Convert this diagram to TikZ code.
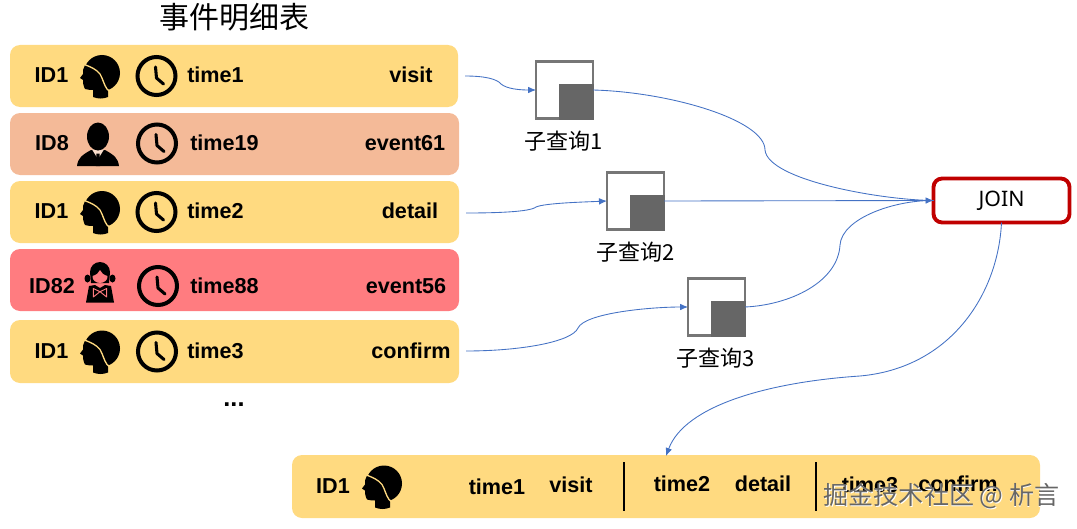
\documentclass[tikz,border=0pt]{standalone}
\usepackage{fontspec}
\setmainfont{Noto Sans}
\newfontfamily\cjk{Noto Sans CJK SC}
\newfontfamily\labfont{Liberation Sans}
\usetikzlibrary{arrows.meta}
\definecolor{yel}{HTML}{FFDA80}
\definecolor{sal}{HTML}{F4BA98}
\definecolor{redrow}{HTML}{FF7C80}
\definecolor{conn}{HTML}{4472C4}
\definecolor{frameg}{HTML}{767676}
\definecolor{darkg}{HTML}{666666}
\definecolor{joinred}{HTML}{C00000}
\tikzset{
 x=0.75pt,y=-0.75pt,
 sized/.style 2 args={minimum width=#1*0.75pt,minimum height=#2*0.75pt,inner sep=0pt,outer sep=0pt},
 rowbox/.style={rounded corners=7.5pt,draw=none},
 lab/.style={font=\labfont\bfseries\fontsize{16.2}{18}\selectfont,text=black,inner sep=0pt},
 cjklab/.style={font=\cjk\fontsize{16.5}{18}\selectfont,text=black,inner sep=0pt},
 sq/.style={sized={57}{57},draw=frameg,line width=2.2pt,fill=white},
 dk/.style={sized={35}{36},fill=darkg},
 flow/.style={draw=conn,line width=0.65pt},
 flowtip/.style={flow,-{Latex[length=6pt,width=5pt]}},
 sep/.style={draw=black,line width=2.2pt},
 womanicon/.pic={
  \fill[black] (2,-3) circle[radius=18];
  \fill[black] (-15,-11) -- (-17,-6) -- (-17,-2) -- (-20,2) -- (-17,4) -- (-17,7)
    .. controls (-16,10) and (-16,12) .. (-15,13)
    .. controls (-12,14) and (-9,14) .. (-7,14)
    -- (-7,21) .. controls (-2,23) and (3,23) .. (8,21) -- (8,10) -- (2,0) -- cycle;
  \draw[yel,line width=1pt] (-17,-12) .. controls (-9,-9) and (-4,-7) .. (0,-2)
    .. controls (3,3) and (4,9) .. (7,13) -- (11,16.5);
 },
 manicon/.pic={
  \fill[black] (-21,22) .. controls (-20,14) and (-16,11) .. (-7,6)
    -- (7,6) .. controls (16,11) and (20,14) .. (21,22) -- cycle;
  \fill[white!50!sal] (-6,5.5) -- (6,5.5) -- (0,15) -- cycle;
  \fill[black] (-1.5,9.5) -- (1.5,9.5) -- (2.2,22) -- (-2.2,22) -- cycle;
  \fill[black] (0,-7.5) ellipse[x radius=11,y radius=14];
 },
 girlicon/.pic={
  \fill[black] (0,-14) circle[radius=10];
  \fill[black] (-10,-14) -- (10,-14) -- (9,-3) -- (-9,-3) -- cycle;
  \fill[black] (-12.5,-7.5) ellipse[x radius=3,y radius=4] (12.5,-7.5) ellipse[x radius=3,y radius=4];
  \fill[redrow] (-7.5,-10) .. controls (-4,-11) and (-1,-13) .. (0,-16)
    .. controls (1,-13) and (4,-11) .. (7.5,-10)
    .. controls (8,-6) and (4,-3) .. (0,-3)
    .. controls (-4,-3) and (-8,-6) .. (-7.5,-10) -- cycle;
  \fill[black] (-14,16.5) -- (-11,0) -- (-5,-1) -- (0,2) -- (5,-1) -- (11,0) -- (14,16.5) -- cycle;
  \draw[redrow,line width=0.7pt,line join=round] (-6.7,11) -- (-6.7,2.5) -- (0,5.7) -- (6.7,2.5) -- (6.7,11) -- (0,5.7) -- cycle;
 },
 clockicon/.pic={
  \draw[black,line width=3pt] (0,0) circle[radius=19];
  \draw[black,line width=2.3pt,line cap=round,line join=round] (-1,-9) -- (0,2) -- (7,8);
 }
}
\begin{document}
\begin{tikzpicture}
\useasboundingbox (0,0) rectangle (1077,528);
% rows
\node[rowbox,fill=yel,sized={448}{62}] (r1) at (234,76) {};
\node[rowbox,fill=sal,sized={449}{62}] (r2) at (234.5,144) {};
\node[rowbox,fill=yel,sized={449}{62}] (r3) at (234.5,212) {};
\node[rowbox,fill=redrow,sized={449}{62}] (r4) at (234.5,280) {};
\node[rowbox,fill=yel,sized={449}{63}] (r5) at (234.5,351.5) {};
\node[rowbox,fill=yel,sized={748}{63}] (res) at (666,486.5) {};
% title
\node[cjklab,font=\cjk\fontsize{22.5}{24}\selectfont] (title) at (234,17) {事件明细表};
% row 1
\node[lab] (id1) at (51.5,75) {ID1};
\pic at (100,76) {womanicon};
\pic at (156.5,76) {clockicon};
\node[lab,anchor=west] (t1) at (187,75) {time1};
\node[lab] (e1) at (411,75) {visit};
% row 2
\node[lab] (id2) at (52,143.5) {ID8};
\pic at (98,144) {manicon};
\pic at (157,143.5) {clockicon};
\node[lab,anchor=west] (t2) at (190,143) {time19};
\node[lab] (e2) at (405,143) {event61};
% row 3
\node[lab] (id3) at (51.5,211) {ID1};
\pic at (100,212) {womanicon};
\pic at (156.5,212) {clockicon};
\node[lab,anchor=west] (t3) at (187,211) {time2};
\node[lab] (e3) at (410,211) {detail};
% row 4
\node[lab] (id4) at (52,286) {ID82};
\pic at (100,286) {girlicon};
\pic at (158,286) {clockicon};
\node[lab,anchor=west] (t4) at (190,286) {time88};
\node[lab] (e4) at (406,286) {event56};
% row 5
\node[lab] (id5) at (51.5,351) {ID1};
\pic at (100,351.5) {womanicon};
\pic at (157,351.5) {clockicon};
\node[lab,anchor=west] (t5) at (187,351) {time3};
\node[lab] (e5) at (411,351) {confirm};
\node[lab,font=\labfont\bfseries\fontsize{19}{20}\selectfont] (more) at (234,405) {...};
% subqueries
\node[sq] (s1) at (564.5,90) {};
\node[dk,anchor=south east] (d1) at (594,120) {};
\node[cjklab] (l1) at (564,141) {子查询1};
\node[sq] (s2) at (635.5,201) {};
\node[dk,anchor=south east] (d2) at (665,231) {};
\node[cjklab] (l2) at (635.5,252) {子查询2};
\node[sq] (s3) at (716.5,307) {};
\node[dk,anchor=south east] (d3) at (746,337) {};
\node[cjklab] (l3) at (716,358) {子查询3};
% join
\node[sized={136}{44},rounded corners=6.5pt,draw=joinred,line width=2.9pt,fill=white,font=\fontsize{16}{18}\selectfont] (join) at (1001.5,200.5) {JOIN};
% result
\node[lab] (rid) at (333,486) {ID1};
\pic at (382,486.5) {womanicon};
\node[lab] (rt1) at (497,487) {time1};
\node[lab] (rv1) at (571,485) {visit};
\node[lab] (rt2) at (682,484) {time2};
\node[lab] (rv2) at (763,484) {detail};
\node[lab] (rt3) at (870,485) {time3};
\node[lab] (rv3) at (958,484) {confirm};
\coordinate (sa1) at (624,462); \coordinate (sb1) at (624,511);
\coordinate (sa2) at (816,462); \coordinate (sb2) at (816,511);
\draw[sep] (sa1) -- (sb1);
\draw[sep] (sa2) -- (sb2);
% connectors
\coordinate (c1) at (465,76);
\coordinate (c2) at (466,213);
\coordinate (c3) at (466,351);
\coordinate (m1) at (765,150);
\coordinate (m3) at (840,245);
\coordinate (resin) at (666,456);
\draw[flowtip] (c1) .. controls (485,76) and (497,79) .. (501,84) .. controls (507,89) and (520,90) .. (s1.west);
\draw[flowtip] (c2) .. controls (495,213) and (530,212) .. (536,207) .. controls (545,203) and (585,202) .. (s2.west);
\draw[flowtip] (c3) .. controls (520,351) and (572,342) .. (578,328) .. controls (585,313) and (650,307) .. (s3.west);
\draw[flow] (s1.east) .. controls (670,92) and (765,120) .. (m1) .. controls (768,180) and (880,200) .. (join.west);
\draw[flowtip] (s2.east) -- (join.west);
\draw[flow] (s3.east) .. controls (790,305) and (838,282) .. (m3) .. controls (842,218) and (895,200) .. (join.west);
\draw[flowtip] (join.south) .. controls (998,295) and (950,368) .. (860,376) .. controls (770,382) and (685,405) .. (resin);
% watermark
\node[font=\cjk\fontsize{18.8}{20}\selectfont,text=white,inner sep=0pt] (wmb) at (942.2,496.6) {掘金技术社区 @ 析言};
\node[font=\cjk\fontsize{18.8}{20}\selectfont,text=black!60,inner sep=0pt] (wm) at (941.5,496) {掘金技术社区 @ 析言};
\end{tikzpicture}
\end{document}
